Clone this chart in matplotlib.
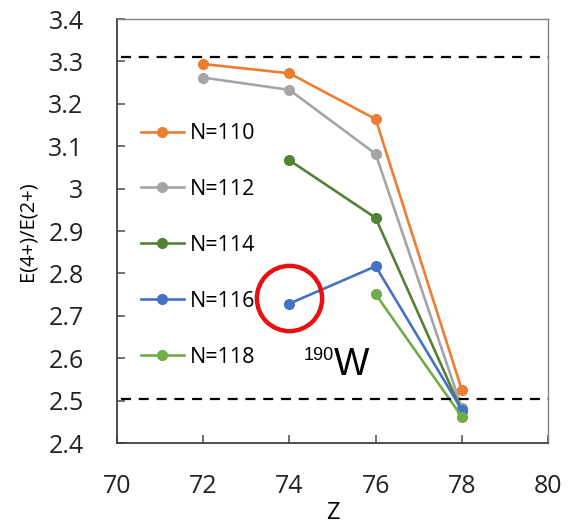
import matplotlib
matplotlib.use('Agg')
import matplotlib.pyplot as plt

plt.rcParams['font.family'] = ['Open Sans', 'DejaVu Sans']

# data
z_110 = [72, 74, 76, 78]
r_110 = [3.294, 3.272, 3.164, 2.525]
z_112 = [72, 74, 76, 78]
r_112 = [3.262, 3.233, 3.082, 2.482]
z_114 = [74, 76, 78]
r_114 = [3.067, 2.931, 2.475]
z_116 = [74, 76, 78]
r_116 = [2.729, 2.817, 2.478]
z_118 = [76, 78]
r_118 = [2.751, 2.462]

labels = ['N=110', 'N=112', 'N=114', 'N=116', 'N=118']
colors = ['#ED7D31', '#A5A5A5', '#548235', '#4472C4', '#70AD47']
limits = [3.31, 2.505]

fig = plt.figure(figsize=(5.68, 5.30), dpi=100)
ax = fig.add_axes([0.206, 0.164, 0.759, 0.800])

series = [(z_110, r_110), (z_112, r_112), (z_114, r_114), (z_116, r_116), (z_118, r_118)]
for (z, r), lab, c in zip(series, labels, colors):
    ax.plot(z, r, color=c, lw=1.9, marker='o', ms=7, label=lab)

# rigid rotor / vibrator limits
for y in limits:
    ax.plot([70.1, 80], [y, y], color='black', lw=1.6, ls=(0, (4.5, 3.5)))

# highlight of 190W
ax.plot([74], [2.742], marker='o', ms=47, mfc='none', mec='#E81010', mew=3.2)
ax.text(74.32, 2.596, '190', fontsize=13, family='Liberation Sans', va='baseline')
ax.text(75.03, 2.560, 'W', fontsize=27, family='Liberation Sans', va='baseline')

ax.set_xlim(70, 80)
ax.set_ylim(2.4, 3.4)
ax.set_xticks([70, 72, 74, 76, 78, 80])
ax.set_yticks([2.4, 2.5, 2.6, 2.7, 2.8, 2.9, 3.0, 3.1, 3.2, 3.3, 3.4])
ax.set_yticklabels(['2.4', '2.5', '2.6', '2.7', '2.8', '2.9', '3', '3.1', '3.2', '3.3', '3.4'])
ax.tick_params(direction='in', length=6, width=1.2, color='#595959',
               labelsize=18, labelcolor='#222222')
ax.tick_params(axis='x', pad=22)
ax.tick_params(axis='y', pad=24)
for s in ['left', 'bottom']:
    ax.spines[s].set_color('#404040')
    ax.spines[s].set_linewidth(1.3)
for s in ['top', 'right']:
    ax.spines[s].set_color('#808080')
    ax.spines[s].set_linewidth(1.0)

ax.set_xlabel('Z', fontsize=17, labelpad=2)
ax.set_ylabel('E(4+)/E(2+)', fontsize=14.5, labelpad=8)

ax.legend(loc='upper left', bbox_to_anchor=(0.035, 0.775), frameon=False,
          fontsize=15.5, labelspacing=1.62, handlelength=2.0, handletextpad=0.3,
          borderaxespad=0)

fig.savefig('out.png', dpi=100)
